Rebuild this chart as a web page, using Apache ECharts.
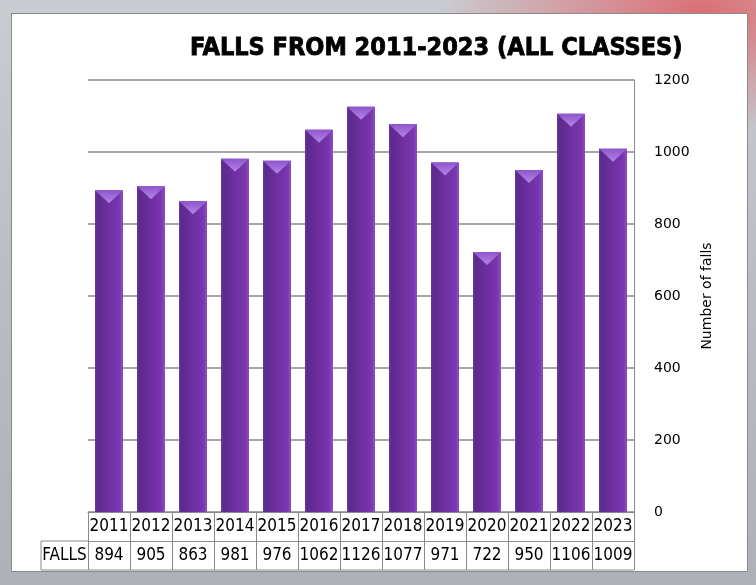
<!DOCTYPE html>
<html>
<head>
<meta charset="utf-8">
<script src="https://cdn.jsdelivr.net/npm/echarts@6/dist/echarts.min.js"></script>
<style>
  html, body { margin: 0; padding: 0; }
  body {
    width: 756px; height: 585px; overflow: hidden; position: relative;
    background:
      radial-gradient(ellipse 260px 120px at 700px 10px, rgba(225, 80, 85, 0.75), rgba(225, 80, 85, 0) 100%),
      linear-gradient(180deg, #c9ccd1 0%, #b9bcc2 50%, #aeb1b7 100%);
  }
  #panel {
    position: absolute; left: 11px; top: 13px; width: 735px; height: 557px;
    background: #fff; border: 1px solid #8a8a8a;
  }
  #chart { position: absolute; left: 0; top: 0; width: 756px; height: 585px; }
</style>
</head>
<body>
<div id="panel"></div>
<div id="chart"></div>
<script>
const years = ["2011", "2012", "2013", "2014", "2015", "2016", "2017", "2018", "2019", "2020", "2021", "2022", "2023"];
const falls = [894, 905, 863, 981, 976, 1062, 1126, 1077, 971, 722, 950, 1106, 1009];
const yTicks = { min: 0, max: 1200, interval: 200 };

const lineColor = "#8a8a8a";
const tableFont = "'DejaVu Sans Condensed', sans-serif";

const chart = echarts.init(document.getElementById("chart"), null, { renderer: "canvas" });

chart.setOption({
  animation: false,
  backgroundColor: "transparent",
  title: {
    text: "FALLS FROM 2011-2023 (ALL CLASSES)",
    left: 190,
    top: 36,
    padding: 0,
    textStyle: {
      fontFamily: "'DejaVu Sans Condensed', sans-serif",
      fontWeight: "bold",
      fontSize: 25,
      color: "#000",
      textBorderColor: "#000",
      textBorderWidth: 0.8
    }
  },
  grid: { left: 88, right: 122, top: 80, bottom: 73 },
  xAxis: [
    {
      type: "category",
      data: years,
      position: "bottom",
      axisLine: { show: true, lineStyle: { color: lineColor, width: 1 } },
      axisTick: { show: true, interval: 0, length: 58, lineStyle: { color: lineColor } },
      axisLabel: { interval: 0, margin: 6, color: "#000", fontFamily: tableFont, fontSize: 17 }
    },
    {
      type: "category",
      data: falls.map(String),
      position: "bottom",
      offset: 29,
      axisLine: { show: true, lineStyle: { color: lineColor, width: 1 } },
      axisTick: { show: false },
      axisLabel: { interval: 0, margin: 6, color: "#000", fontFamily: tableFont, fontSize: 17 }
    }
  ],
  yAxis: {
    type: "value",
    position: "right",
    min: yTicks.min,
    max: yTicks.max,
    interval: yTicks.interval,
    name: "Number of falls",
    nameLocation: "middle",
    nameGap: 66,
    nameRotate: 90,
    nameTextStyle: { color: "#000", fontFamily: "'DejaVu Sans', sans-serif", fontSize: 14 },
    axisLine: { show: true, lineStyle: { color: lineColor } },
    axisTick: { show: false },
    axisLabel: {
      margin: 20, color: "#000", fontFamily: "'DejaVu Sans', sans-serif", fontSize: 14,
      formatter: v => String(v)
    },
    splitLine: { show: true, lineStyle: { color: lineColor, width: 1.5 } }
  },
  series: [
    {
      type: "bar",
      data: falls,
      barWidth: 28,
      itemStyle: {
        color: new echarts.graphic.LinearGradient(0, 0, 1, 0, [
          { offset: 0, color: "#6e38a8" },
          { offset: 0.08, color: "#5c2a8c" },
          { offset: 0.45, color: "#6c2f9f" },
          { offset: 0.85, color: "#7836ad" },
          { offset: 1, color: "#8c4ec4" }
        ])
      },
      z: 2
    },
    {
      type: "pictorialBar",
      data: falls,
      symbol: "triangle",
      symbolRotate: 180,
      symbolSize: [28, 13],
      symbolPosition: "end",
      itemStyle: {
        color: new echarts.graphic.LinearGradient(0, 0, 0, 1, [
          { offset: 0, color: "#b585e8" },
          { offset: 1, color: "#8e55cc" }
        ])
      },
      z: 3
    }
  ],
  graphic: [
    { type: "line", shape: { x1: 41, y1: 541, x2: 88, y2: 541 }, style: { stroke: lineColor, lineWidth: 1 } },
    { type: "line", shape: { x1: 41, y1: 570, x2: 634, y2: 570 }, style: { stroke: lineColor, lineWidth: 1 } },
    { type: "line", shape: { x1: 41, y1: 541, x2: 41, y2: 570 }, style: { stroke: lineColor, lineWidth: 1 } },
    {
      type: "text", x: 64.5, y: 556, z: 10,
      style: { text: "FALLS", align: "center", verticalAlign: "middle", fill: "#000", font: "17px " + tableFont }
    }
  ]
});
</script>
</body>
</html>
